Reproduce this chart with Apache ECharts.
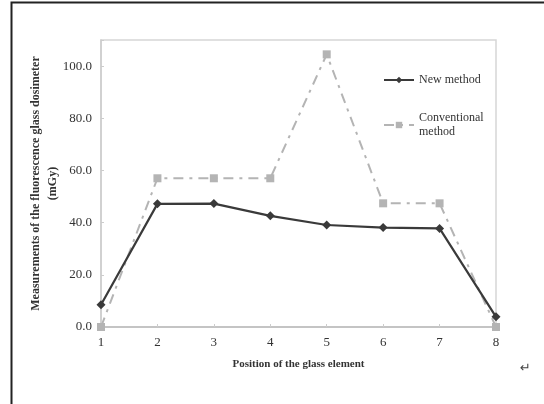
<!DOCTYPE html>
<html><head><meta charset="utf-8">
<script src="https://cdn.jsdelivr.net/npm/echarts@6/dist/echarts.min.js"></script>
<style>html,body{margin:0;padding:0;background:#fff}#c{width:544px;height:404px}</style>
</head><body><div id="c"></div>
<script>
const categories = ['1','2','3','4','5','6','7','8'];
const newMethod = [8.5, 47.2, 47.3, 42.6, 39.1, 38.1, 37.8, 3.9];
const conventional = [0, 57.0, 57.0, 57.0, 104.5, 47.4, 47.4, 0];
const yTicks = {min: 0, max: 110, interval: 20};
const seriesNames = ['New method', 'Conventional\nmethod'];

const chart = echarts.init(document.getElementById('c'), null, {renderer: 'canvas'});
const serif = '"Liberation Serif", "DejaVu Serif", serif';
chart.setOption({
  animation: false,
  backgroundColor: '#fff',
  grid: {left: 101, top: 40, right: 48, bottom: 77, show: true, borderColor: '#d6d6d6', borderWidth: 1.5},
  legend: {
    orient: 'vertical', left: 378, top: 68, itemGap: 24, itemWidth: 30, itemHeight: 8,
    textStyle: {fontFamily: serif, fontSize: 12, color: '#333', lineHeight: 14},
    data: [{name: seriesNames[0]}, {name: seriesNames[1]}]
  },
  xAxis: {
    type: 'category', data: categories, boundaryGap: false,
    axisLine: {lineStyle: {color: '#bbb', width: 1.5}},
    axisTick: {show: true, length: 3, inside: true, lineStyle: {color: '#ccc'}},
    axisLabel: {fontFamily: serif, fontSize: 13, color: '#333', margin: 9},
    name: 'Position of the glass element', nameLocation: 'middle', nameGap: 32,
    nameTextStyle: {fontFamily: serif, fontSize: 11, fontWeight: 'bold', color: '#333'}
  },
  yAxis: {
    type: 'value', min: yTicks.min, max: yTicks.max, interval: yTicks.interval,
    splitLine: {show: false},
    axisLine: {show: true, lineStyle: {color: '#ccc', width: 1.5}},
    axisTick: {show: true, length: 3, inside: true, lineStyle: {color: '#ccc'}},
    axisLabel: {fontFamily: serif, fontSize: 13, color: '#333', margin: 9,
      formatter: v => v % 20 === 0 ? v.toFixed(1) : ''},
    name: 'Measurements of the fluorescence glass dosimeter\n(mGy)',
    nameLocation: 'middle', nameGap: 40, nameRotate: 90, nameMoveOverlap: false,
    nameTextStyle: {fontFamily: serif, fontSize: 12, fontWeight: 'bold', color: '#333', lineHeight: 17}
  },
  series: [
    {name: seriesNames[1], type: 'line', data: conventional, symbol: 'rect', symbolSize: 8,
      z: 2,
      lineStyle: {color: '#b4b4b4', width: 2, type: [10, 6, 3, 6]},
      itemStyle: {color: '#b4b4b4'}},
    {name: seriesNames[0], type: 'line', data: newMethod, symbol: 'diamond', symbolSize: 9,
      z: 3,
      lineStyle: {color: '#3a3a3a', width: 2.2},
      itemStyle: {color: '#3a3a3a'}}
  ],
  graphic: [
    {type: 'rect', shape: {x: 11.5, y: 2.5, width: 600, height: 600}, style: {fill: 'none', stroke: '#222', lineWidth: 2}, z: 100},
    {type: 'text', left: 520, top: 362, style: {text: '↵', font: '13px "DejaVu Sans"', fill: '#444'}}
  ]
});
</script></body></html>
